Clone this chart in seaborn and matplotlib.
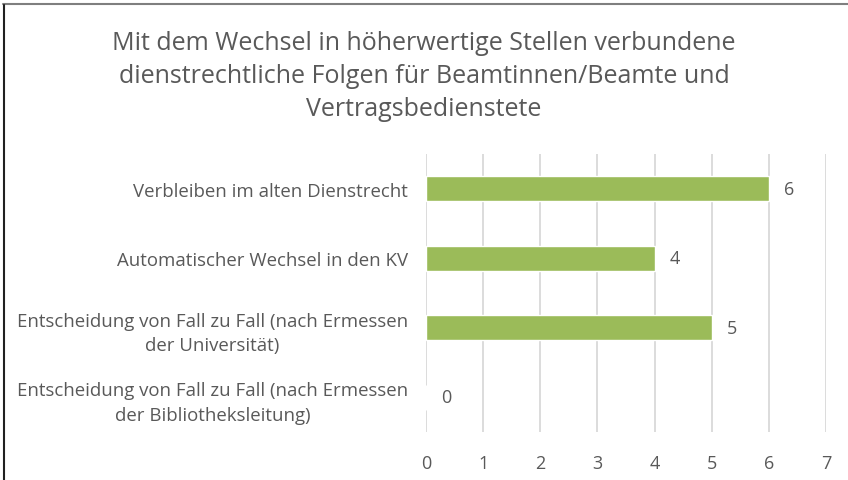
import matplotlib
matplotlib.use("Agg")
import matplotlib.pyplot as plt
import seaborn as sns
import pandas as pd
from matplotlib.lines import Line2D

categories = [
    "Verbleiben im alten Dienstrecht",
    "Automatischer Wechsel in den KV",
    "Entscheidung von Fall zu Fall (nach Ermessen\nder Universität)",
    "Entscheidung von Fall zu Fall (nach Ermessen\nder Bibliotheksleitung)",
]
values = [6, 4, 5, 0]
xticks = [0, 1, 2, 3, 4, 5, 6, 7]
title = ("Mit dem Wechsel in höherwertige Stellen verbundene\n"
         "dienstrechtliche Folgen für Beamtinnen/Beamte und\n"
         "Vertragsbedienstete")

sns.set_theme(style="white")
plt.rcParams['font.family'] = ['Open Sans', 'DejaVu Sans']
text_color = "#595959"

df = pd.DataFrame({"cat": categories, "val": values})

fig = plt.figure(figsize=(8.48, 4.81), dpi=100)
ax = fig.add_axes([0.5024, 0.0998, 0.974 - 0.5024, 0.678 - 0.0998])

sns.barplot(data=df, y="cat", x="val", color="#9BBB59", width=0.36,
            saturation=1, ax=ax, orient="h")

ax.set_xlim(0, 7)
ax.set_xticks(xticks)
ax.set_xticklabels([str(t) for t in xticks])
ax.set_ylim(3.5, -0.5)
ax.grid(axis="x", color="#D9D9D9", linewidth=1.3)
ax.set_axisbelow(True)
for s in ax.spines.values():
    s.set_visible(False)
ax.set_xlabel("")
ax.set_ylabel("")
ax.tick_params(axis="x", length=0, pad=16, labelsize=13, labelcolor=text_color)
ax.tick_params(axis="y", length=0, pad=13, labelsize=13.4, labelcolor=text_color)
for lab in ax.get_yticklabels():
    lab.set_multialignment("center")
    lab.set_linespacing(1.45)

for c in ax.containers:
    ax.bar_label(c, labels=[str(v) for v in values], padding=11,
                 fontsize=13, color=text_color)

fig.text(0.5, 1 - 31/481, title, ha="center", va="top", fontsize=18,
         color=text_color, linespacing=1.43)

fig.add_artist(Line2D([3/848, 1], [1 - 5/481, 1 - 5/481], color="#7F7F7F",
                      linewidth=1.5, transform=fig.transFigure))
fig.add_artist(Line2D([4/848, 4/848], [0, 1 - 6/481], color="#202020",
                      linewidth=1.5, transform=fig.transFigure))

fig.savefig("out.png", dpi=100, facecolor="white")
